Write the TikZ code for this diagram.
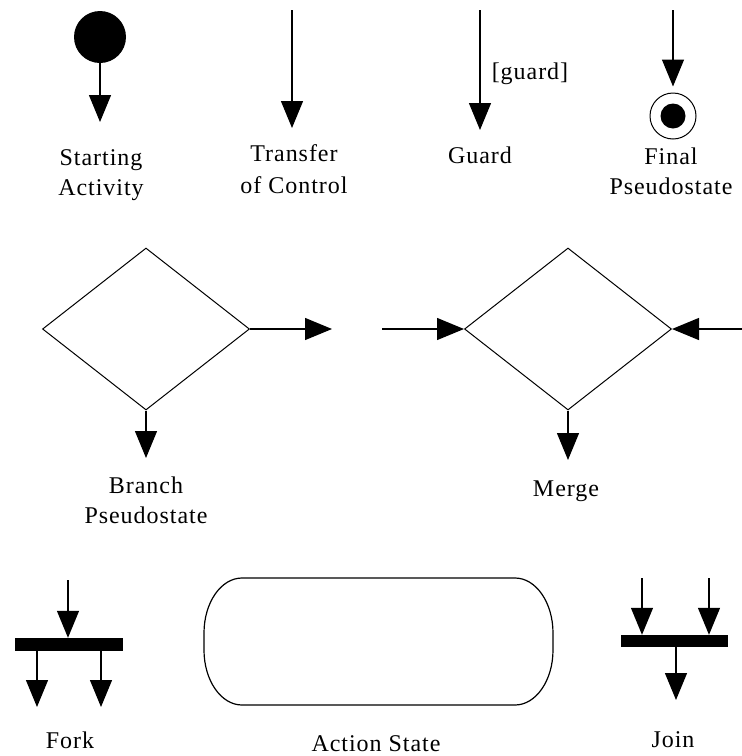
\documentclass[tikz,border=0pt]{standalone}
\usepackage{fontspec}
\setmainfont{Liberation Serif}[LetterSpace=4]
\usetikzlibrary{arrows.meta,shapes.geometric}
\begin{document}
\begin{tikzpicture}[x=1pt,y=-1pt,
  flow/.style={line width=1.3pt,-{Triangle[length=27pt,width=22pt]}},
  lbl/.style={anchor=base,inner sep=0pt,font=\fontsize{24}{30}\selectfont},
  dia/.style={diamond,draw,line width=1pt,minimum width=207pt,minimum height=162pt,inner sep=0pt},
  bar/.style={rectangle,fill=black,inner sep=0pt,minimum width=108pt,minimum height=13pt}]
\useasboundingbox (0,0) rectangle (742,756);

% Starting activity
\node[circle,fill=black,minimum size=52pt,inner sep=0pt] (start) at (100,37) {};
\coordinate (startend) at (100,122);
\draw[flow] (start.south) -- (startend);
\node[lbl] (t1a) at (101,165) {Starting};
\node[lbl] (t1b) at (101,195) {Activity};

% Transfer of control
\coordinate (trs) at (292,10);
\coordinate (tre) at (292,128);
\draw[flow] (trs) -- (tre);
\node[lbl] (t2a) at (294,161) {Transfer};
\node[lbl] (t2b) at (294,193) {of Control};

% Guard
\coordinate (gs) at (480,10);
\coordinate (ge) at (480,130);
\draw[flow] (gs) -- (ge);
\node[lbl] (gl) at (530,79) {[guard]};
\node[lbl] (t3) at (480,163) {Guard};

% Final pseudostate
\node[circle,draw,line width=1pt,minimum size=46pt,inner sep=0pt] (final) at (673,116) {};
\node[circle,fill=black,minimum size=25pt,inner sep=0pt] (finaldot) at (final.center) {};
\coordinate (fs) at (673,10);
\draw[flow,shorten >=6pt] (fs) -- (final.north);
\node[lbl] (t4a) at (671,164) {Final};
\node[lbl] (t4b) at (671,194) {Pseudostate};

% Branch
\node[dia] (branch) at (146,329) {};
\coordinate (be) at (332,329);
\coordinate (bs) at (146,458);
\draw[flow] (branch.east) -- (be);
\draw[flow] (branch.south) -- (bs);
\node[lbl] (t5a) at (146,493) {Branch};
\node[lbl] (t5b) at (146,523) {Pseudostate};

% Merge
\node[dia] (merge) at (568,329) {};
\coordinate (ml) at (382,329);
\coordinate (mr) at (742,329);
\coordinate (ms) at (568,460);
\draw[flow] (ml) -- (merge.west);
\draw[flow] (mr) -- (merge.east);
\draw[flow] (merge.south) -- (ms);
\node[lbl] (t6) at (566,496) {Merge};

% Fork
\node[bar] (fork) at (69,644.5) {};
\coordinate (fin) at (68,580);
\draw[flow] (fin) -- (fork.north -| fin);
\coordinate (fo1) at (37,707);
\coordinate (fo2) at (101,707);
\draw[flow] (fork.south -| fo1) -- (fo1);
\draw[flow] (fork.south -| fo2) -- (fo2);
\node[lbl] (t7) at (70,748) {Fork};

% Action state
\draw[line width=1.2pt] (242,578) -- (515,578)
  arc[start angle=-90,end angle=0,x radius=38,y radius=55] -- (553,650)
  arc[start angle=0,end angle=90,x radius=38,y radius=55] -- (242,705)
  arc[start angle=90,end angle=180,x radius=38,y radius=55] -- (204,633)
  arc[start angle=180,end angle=270,x radius=38,y radius=55] -- cycle;
\node[lbl] (t8) at (376,751) {Action State};

% Join
\node[bar,minimum width=107pt,minimum height=12pt] (join) at (674.5,641) {};
\coordinate (ji1) at (642,578);
\coordinate (ji2) at (709,578);
\draw[flow] (ji1) -- (join.north -| ji1);
\draw[flow] (ji2) -- (join.north -| ji2);
\coordinate (jo) at (676,700);
\draw[flow] (join.south -| jo) -- (jo);
\node[lbl] (t9) at (673,747) {Join};
\end{tikzpicture}
\end{document}
